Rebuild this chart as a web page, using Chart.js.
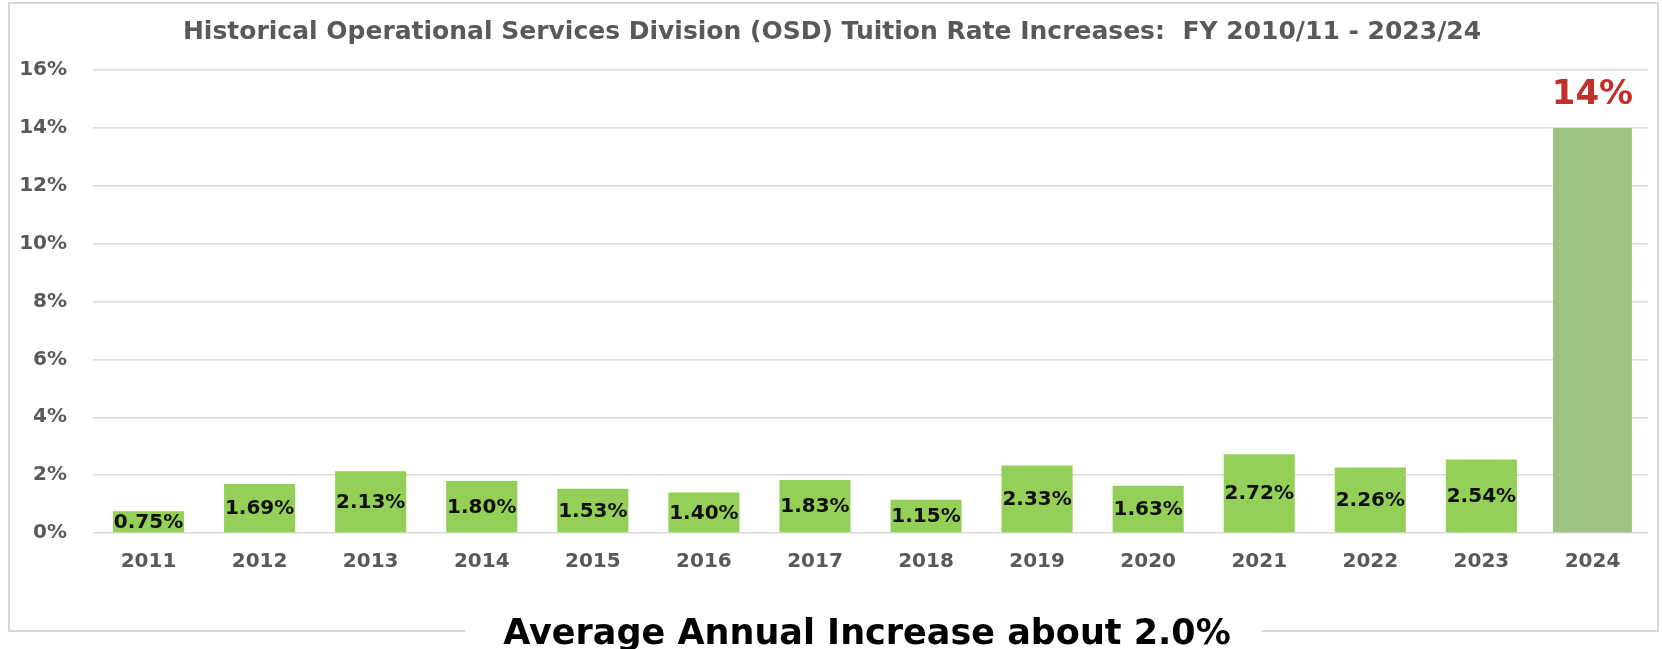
<!DOCTYPE html>
<html>
<head>
<meta charset="utf-8">
<title>OSD Tuition Rate Increases</title>
<script src="https://cdn.jsdelivr.net/npm/chart.js@4.4.1/dist/chart.umd.min.js"></script>
<style>
  body { margin: 0; background: #fff; }
  #wrap { width: 1662px; height: 649px; }
</style>
</head>
<body>
<div id="wrap"><canvas id="rate_chart"></canvas></div>
<script>
var years = ['2011', '2012', '2013', '2014', '2015', '2016', '2017',
             '2018', '2019', '2020', '2021', '2022', '2023', '2024'];
// rate increases (%) for FY 2010/11 .. 2022/23
var pastRates = [0.75, 1.69, 2.13, 1.80, 1.53, 1.40, 1.83,
                 1.15, 2.33, 1.63, 2.72, 2.26, 2.54, null];
// the FY 2023/24 jump, kept apart so it can get its own colour and width
var newRate = [null, null, null, null, null, null, null,
               null, null, null, null, null, null, 14];
var yTicks = [0, 2, 4, 6, 8, 10, 12, 14, 16];

var chartTitle = 'Historical Operational Services Division (OSD) Tuition Rate Increases:  FY 2010/11 - 2023/24';
var footNote = 'Average Annual Increase about 2.0%';

var font = '"DejaVu Sans", Verdana, sans-serif';

// value labels: small ones centred in the bars, big red one above the last bar
var barLabels = {
  id: 'barLabels',
  afterDatasetsDraw: function(chart) {
    var ctx = chart.ctx;
    ctx.save();
    ctx.textAlign = 'center';
    chart.getDatasetMeta(0).data.forEach(function(bar, i) {
      if (pastRates[i] === null) return;
      ctx.font = 'bold 20px ' + font;
      ctx.fillStyle = '#111';
      ctx.textBaseline = 'middle';
      ctx.fillText(pastRates[i].toFixed(2) + '%', bar.x, (bar.y + bar.base) / 2 + 1);
    });
    chart.getDatasetMeta(1).data.forEach(function(bar, i) {
      if (newRate[i] === null) return;
      ctx.font = 'bold 34px ' + font;
      ctx.fillStyle = '#C0312B';
      ctx.textBaseline = 'alphabetic';
      ctx.fillText(newRate[i] + '%', bar.x, bar.y - 24);
    });
    ctx.restore();
  }
};

// grey frame round the picture, broken at the bottom by the footnote
var frame = {
  id: 'frame',
  beforeDraw: function(chart) {
    var ctx = chart.ctx;
    var cx = 867;
    ctx.save();
    ctx.font = 'bold 35px ' + font;
    var w = ctx.measureText(footNote).width;
    ctx.strokeStyle = '#D9D9D9';
    ctx.lineWidth = 2;
    ctx.beginPath();
    ctx.moveTo(cx - w / 2 - 38, 631);
    ctx.lineTo(9, 631);
    ctx.lineTo(9, 3);
    ctx.lineTo(1658, 3);
    ctx.lineTo(1658, 631);
    ctx.lineTo(cx + w / 2 + 31, 631);
    ctx.stroke();
    ctx.fillStyle = '#000';
    ctx.textAlign = 'center';
    ctx.textBaseline = 'alphabetic';
    ctx.fillText(footNote, cx, 644);
    ctx.restore();
  }
};

var ctx = document.getElementById('rate_chart').getContext('2d');
var chart = new Chart(ctx, {
  type: 'bar',
  data: {
    labels: years,
    datasets: [{
      label: 'FY 2011 - 2023',
      data: pastRates,
      backgroundColor: '#94CF58',
      barPercentage: 0.64,
      categoryPercentage: 1,
      grouped: false
    }, {
      label: 'FY 2024',
      data: newRate,
      backgroundColor: '#9DC381',
      barPercentage: 0.71,
      categoryPercentage: 1,
      grouped: false
    }]
  },
  options: {
    responsive: true,
    maintainAspectRatio: false,
    animation: false,
    layout: { padding: { left: 16, right: 14, top: 0, bottom: 0 } },
    plugins: {
      legend: { display: false },
      tooltip: { enabled: false },
      title: {
        display: true,
        text: chartTitle,
        color: '#595959',
        font: { family: font, size: 25, weight: 'bold', lineHeight: 1.2 },
        padding: { top: 17, bottom: 23 }
      }
    },
    scales: {
      x: {
        grid: { display: false },
        border: { display: false },
        ticks: {
          color: '#595959',
          font: { family: font, size: 20, weight: 'bold' },
          padding: 9,
          autoSkip: false,
          maxRotation: 0
        },
        afterFit: function(scale) { scale.height = 116; }
      },
      y: {
        min: 0,
        max: 16,
        grid: { color: '#DADADA', lineWidth: 1.5, drawTicks: false },
        border: { display: false },
        ticks: {
          color: '#595959',
          font: { family: font, size: 20, weight: 'bold' },
          padding: 26,
          callback: function(v) { return v + '%'; }
        },
        afterBuildTicks: function(scale) {
          scale.ticks = yTicks.map(function(v) { return { value: v }; });
        },
        afterFit: function(scale) { scale.width = 77; }
      }
    }
  },
  plugins: [frame, barLabels]
});
</script>
</body>
</html>
